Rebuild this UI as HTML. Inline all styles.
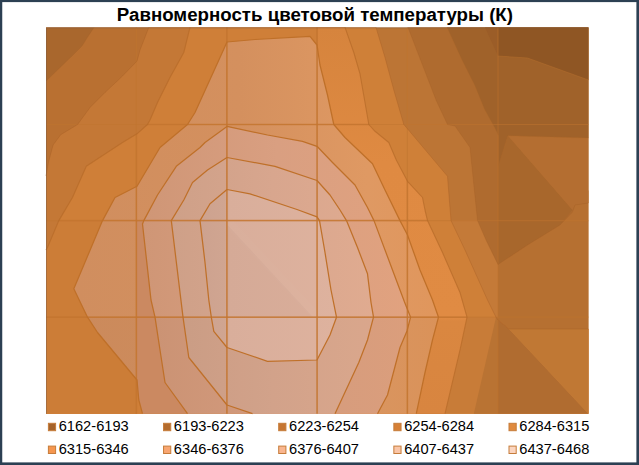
<!DOCTYPE html>
<html><head><meta charset="utf-8"><title>chart</title>
<style>
html,body{margin:0;padding:0;background:#fff;}
body{width:639px;height:465px;overflow:hidden;position:relative;font-family:"Liberation Sans",sans-serif;}
#title{position:absolute;left:0;top:3.6px;width:629.8px;text-align:center;font-weight:bold;font-size:18.7px;line-height:22px;color:#000;white-space:nowrap;}
svg{position:absolute;left:0;top:0;}
.lt{position:absolute;font-size:14.65px;line-height:17px;color:#000;white-space:nowrap;}
</style></head><body>
<div id="title">Равномерность цветовой температуры (К)</div>
<svg width="639" height="465" viewBox="0 0 639 465">
<defs><clipPath id="c7"><polygon points="408.0,27.4 420.4,59.6 436.4,100.9 447.5,124.5 455.0,126.0 470.0,147.5 473.8,185.0 477.5,220.6 486.0,240.0 498.0,264.5 527.5,245.0 560.0,225.0 572.5,212.0 575.0,205.0 588.4,203.0 588.4,27.4"/></clipPath><clipPath id="c6"><polygon points="46.0,413.7 46.0,176.0 48.5,162.0 53.1,145.0 60.7,134.7 77.6,124.5 90.0,107.5 105.0,92.5 122.5,76.0 137.0,61.0 140.0,50.0 148.8,27.4 376.0,27.4 385.0,57.5 393.8,90.0 403.8,124.5 407.5,128.8 447.5,176.3 451.0,220.6 465.0,250.0 487.5,300.0 496.0,317.2 498.0,320.0 509.0,329.0 588.4,329.0 588.4,413.7"/></clipPath><linearGradient id="g6" gradientUnits="userSpaceOnUse" x1="330" y1="0" x2="500" y2="0"><stop offset="0" stop-color="#cc7e38"/><stop offset="1" stop-color="#d08239"/></linearGradient><clipPath id="c5"><polygon points="46.0,413.7 46.0,250.0 47.5,247.5 58.8,220.6 72.5,197.5 86.3,166.3 122.5,142.5 137.0,133.8 147.5,124.5 150.0,120.0 157.5,102.5 170.0,77.5 183.8,52.5 190.0,27.4 345.0,27.4 353.8,52.5 360.0,73.8 365.0,102.5 368.8,124.5 375.0,131.3 388.8,142.5 396.3,160.0 407.5,181.3 422.5,197.5 425.0,210.0 427.5,220.6 442.5,252.5 460.0,292.5 467.0,317.2 460.0,350.0 445.0,413.7"/></clipPath><linearGradient id="g5" gradientUnits="userSpaceOnUse" x1="0" y1="27" x2="0" y2="414"><stop offset="0" stop-color="#d6843d"/><stop offset="0.35" stop-color="#df8a42"/><stop offset="0.75" stop-color="#e08b43"/><stop offset="0.76" stop-color="#da8740"/><stop offset="1" stop-color="#d88540"/></linearGradient><linearGradient id="g4" gradientUnits="userSpaceOnUse" x1="75" y1="0" x2="440" y2="0"><stop offset="0" stop-color="#d08e5f"/><stop offset="0.45" stop-color="#d4905e"/><stop offset="0.8" stop-color="#df9963"/><stop offset="1" stop-color="#e0965c"/></linearGradient><linearGradient id="g3" gradientUnits="userSpaceOnUse" x1="143" y1="0" x2="411" y2="0"><stop offset="0" stop-color="#cf9676"/><stop offset="0.5" stop-color="#d99f81"/><stop offset="1" stop-color="#e1a27f"/></linearGradient><linearGradient id="g2" gradientUnits="userSpaceOnUse" x1="171" y1="0" x2="374" y2="0"><stop offset="0" stop-color="#cea088"/><stop offset="0.5" stop-color="#d8a68e"/><stop offset="1" stop-color="#e0ab90"/></linearGradient><linearGradient id="g1" gradientUnits="userSpaceOnUse" x1="200" y1="0" x2="337" y2="0"><stop offset="0" stop-color="#cda28f"/><stop offset="0.18" stop-color="#d0a591"/><stop offset="0.22" stop-color="#d9ae9b"/><stop offset="1" stop-color="#deb29e"/></linearGradient><clipPath id="c4"><polygon points="142.5,413.7 138.8,400.0 137.0,380.0 97.5,332.5 87.5,317.2 73.8,288.8 102.5,220.6 115.0,197.5 137.0,186.3 160.0,147.5 187.5,124.5 195.0,112.5 207.5,85.0 220.0,57.5 227.0,42.0 255.0,39.5 310.0,36.3 317.0,45.0 320.0,65.0 327.5,95.0 333.8,124.5 345.0,137.5 372.5,163.8 385.0,190.0 400.0,220.6 407.5,235.0 420.0,270.0 432.5,300.0 438.5,317.2 432.5,340.0 425.0,372.5 416.3,413.7"/></clipPath><clipPath id="c3"><polygon points="187.5,413.7 165.0,382.5 160.0,350.0 155.0,317.2 151.0,300.0 142.5,224.0 143.8,220.6 157.5,195.0 176.3,166.3 200.0,147.5 205.0,142.5 227.0,126.4 267.5,135.0 302.5,141.3 317.0,146.3 332.5,162.5 355.0,185.0 367.5,207.5 374.0,220.6 392.5,270.0 404.5,302.0 410.6,317.2 407.0,331.0 400.0,347.5 387.5,395.0 377.5,413.7"/></clipPath><clipPath id="c2"><polygon points="252.5,413.7 227.0,405.0 188.8,357.5 183.0,317.2 171.3,220.6 183.8,200.0 192.5,182.5 207.5,170.0 227.0,157.5 275.0,166.3 317.0,180.5 330.0,195.0 340.0,210.0 346.5,220.6 357.5,247.5 367.5,273.8 371.0,302.5 373.5,317.2 367.5,340.0 358.8,362.5 335.0,413.7"/></clipPath><clipPath id="c1"><polygon points="227.0,189.5 210.0,203.8 200.0,220.6 205.0,262.5 208.8,300.0 211.3,317.2 213.8,331.3 227.0,347.5 267.5,361.3 317.0,360.0 330.0,335.0 336.5,317.2 331.0,290.0 325.0,252.5 319.5,220.6 317.0,216.8 297.0,209.5 250.0,193.8"/></clipPath></defs>
<rect x="46.0" y="27.4" width="542.4" height="386.3" fill="#bc7535"/>
<polygon points="430.0,220.6 498.0,220.6 498.0,321.2 430.0,321.2" fill="#c47a38"/>
<polygon points="498.0,190.6 588.4,190.6 588.4,413.7 498.0,413.7" fill="#b67031"/>
<polygon points="408.0,27.4 420.4,59.6 436.4,100.9 447.5,124.5 455.0,126.0 470.0,147.5 473.8,185.0 477.5,220.6 486.0,240.0 498.0,264.5 527.5,245.0 560.0,225.0 572.5,212.0 575.0,205.0 588.4,203.0 588.4,27.4" fill="#af6b2f"/>
<polygon points="498.0,165.7 507.9,135.7 572.5,210.0 560.0,225.0 527.5,245.0 498.0,264.5" fill="#a8672c" clip-path="url(#c7)"/>
<polygon points="507.9,135.7 588.4,138.0 588.4,203.0 575.0,205.0 572.5,210.0" fill="#b46e31" clip-path="url(#c7)"/>
<polygon points="447.0,27.4 461.7,59.6 474.9,85.8 484.3,109.0 494.8,128.0 498.5,135.7 498.5,165.7 507.9,135.7 588.4,138.0 588.4,27.4" fill="#a0622a"/>
<polygon points="485.0,27.4 498.0,27.4 498.0,56.0" fill="#9b5d28"/>
<polygon points="498.0,27.4 498.0,56.0 527.5,58.0 588.4,80.0 588.4,27.4" fill="#8f5624"/>
<polygon points="46.0,413.7 46.0,176.0 48.5,162.0 53.1,145.0 60.7,134.7 77.6,124.5 90.0,107.5 105.0,92.5 122.5,76.0 137.0,61.0 140.0,50.0 148.8,27.4 376.0,27.4 385.0,57.5 393.8,90.0 403.8,124.5 407.5,128.8 447.5,176.3 451.0,220.6 465.0,250.0 487.5,300.0 496.0,317.2 498.0,320.0 509.0,329.0 588.4,329.0 588.4,413.7" fill="#cf8038"/>
<polygon points="407.0,317.2 588.4,317.2 588.4,413.7 407.0,413.7" fill="#c87c38" clip-path="url(#c6)"/>
<polygon points="496.0,317.2 498.0,317.2 498.0,413.7 473.8,413.7" fill="#b97333"/>
<polygon points="498.0,320.0 509.0,329.0 588.4,413.7 498.0,413.7" fill="#b06c30"/>
<polygon points="509.0,329.0 588.4,329.0 588.4,413.7" fill="#c07834"/>
<polygon points="46.0,176.0 48.5,162.0 53.1,145.0 60.7,134.7 77.6,124.5 90.0,107.5 105.0,92.5 122.5,76.0 137.0,61.0 140.0,50.0 148.8,27.4 190.0,27.4 183.8,52.5 170.0,77.5 157.5,102.5 150.0,120.0 147.5,124.5 137.0,133.8 122.5,142.5 86.3,166.3 72.5,197.5 58.8,220.6 47.5,247.5 46.0,250.0" fill="#c47836"/>
<polygon points="46.0,81.0 71.0,57.0 82.0,46.0 87.0,38.0 94.0,27.4 148.8,27.4 140.0,50.0 137.0,61.0 122.5,76.0 105.0,92.5 90.0,107.5 77.6,124.5 60.7,134.7 53.1,145.0 48.5,162.0 46.0,176.0" fill="#b97031"/>
<polygon points="94.0,27.4 87.0,38.0 82.0,46.0 71.0,57.0 46.0,81.0 46.0,27.4" fill="#a9672d"/>
<polygon points="46.0,413.7 46.0,250.0 47.5,247.5 58.8,220.6 72.5,197.5 86.3,166.3 122.5,142.5 137.0,133.8 147.5,124.5 150.0,120.0 157.5,102.5 170.0,77.5 183.8,52.5 190.0,27.4 345.0,27.4 353.8,52.5 360.0,73.8 365.0,102.5 368.8,124.5 375.0,131.3 388.8,142.5 396.3,160.0 407.5,181.3 422.5,197.5 425.0,210.0 427.5,220.6 442.5,252.5 460.0,292.5 467.0,317.2 460.0,350.0 445.0,413.7" fill="#cf7f38"/>
<polygon points="317.0,27.4 480.0,27.4 480.0,413.7 317.0,413.7" fill="url(#g5)" clip-path="url(#c5)"/>
<polygon points="46.0,220.6 137.0,220.6 137.0,413.7 46.0,413.7" fill="#cc7d37" clip-path="url(#c5)"/>
<polygon points="142.5,413.7 138.8,400.0 137.0,380.0 97.5,332.5 87.5,317.2 73.8,288.8 102.5,220.6 115.0,197.5 137.0,186.3 160.0,147.5 187.5,124.5 195.0,112.5 207.5,85.0 220.0,57.5 227.0,42.0 255.0,39.5 310.0,36.3 317.0,45.0 320.0,65.0 327.5,95.0 333.8,124.5 345.0,137.5 372.5,163.8 385.0,190.0 400.0,220.6 407.5,235.0 420.0,270.0 432.5,300.0 438.5,317.2 432.5,340.0 425.0,372.5 416.3,413.7" fill="url(#g4)"/>
<polygon points="46.0,317.2 588.4,317.2 588.4,413.7 46.0,413.7" fill="#000" clip-path="url(#c4)" fill-opacity="0.025"/>
<polygon points="137.0,220.6 170.0,220.6 195.0,413.7 137.0,413.7" fill="#cb8961" clip-path="url(#c4)"/>
<polygon points="187.5,413.7 165.0,382.5 160.0,350.0 155.0,317.2 151.0,300.0 142.5,224.0 143.8,220.6 157.5,195.0 176.3,166.3 200.0,147.5 205.0,142.5 227.0,126.4 267.5,135.0 302.5,141.3 317.0,146.3 332.5,162.5 355.0,185.0 367.5,207.5 374.0,220.6 392.5,270.0 404.5,302.0 410.6,317.2 407.0,331.0 400.0,347.5 387.5,395.0 377.5,413.7" fill="url(#g3)"/>
<polygon points="46.0,317.2 588.4,317.2 588.4,413.7 46.0,413.7" fill="#000" clip-path="url(#c3)" fill-opacity="0.025"/>
<polygon points="252.5,413.7 227.0,405.0 188.8,357.5 183.0,317.2 171.3,220.6 183.8,200.0 192.5,182.5 207.5,170.0 227.0,157.5 275.0,166.3 317.0,180.5 330.0,195.0 340.0,210.0 346.5,220.6 357.5,247.5 367.5,273.8 371.0,302.5 373.5,317.2 367.5,340.0 358.8,362.5 335.0,413.7" fill="url(#g2)"/>
<polygon points="46.0,317.2 588.4,317.2 588.4,413.7 46.0,413.7" fill="#000" clip-path="url(#c2)" fill-opacity="0.025"/>
<polygon points="227.0,189.5 210.0,203.8 200.0,220.6 205.0,262.5 208.8,300.0 211.3,317.2 213.8,331.3 227.0,347.5 267.5,361.3 317.0,360.0 330.0,335.0 336.5,317.2 331.0,290.0 325.0,252.5 319.5,220.6 317.0,216.8 297.0,209.5 250.0,193.8" fill="url(#g1)"/>
<polygon points="227.0,224.6 313.0,317.2 227.0,317.2" fill="#5a3020" clip-path="url(#c1)" fill-opacity="0.032"/>
<polygon points="227.0,220.6 233.0,220.6 317.0,310.2 317.0,317.2 311.0,317.2 227.0,227.6" fill="#fff" clip-path="url(#c1)" fill-opacity="0.02"/>
<g stroke="#c0742e" stroke-width="1.2" stroke-opacity="0.5"><line x1="136.4" y1="27.4" x2="136.4" y2="413.7"/><line x1="226.9" y1="27.4" x2="226.9" y2="413.7"/><line x1="317.1" y1="27.4" x2="317.1" y2="413.7"/><line x1="407.4" y1="27.4" x2="407.4" y2="413.7"/><line x1="498.0" y1="27.4" x2="498.0" y2="413.7"/><line x1="46.0" y1="124.5" x2="588.4" y2="124.5"/><line x1="46.0" y1="220.6" x2="588.4" y2="220.6"/><line x1="46.0" y1="317.2" x2="588.4" y2="317.2"/></g>
<g stroke="#c47630" stroke-width="1.5" stroke-opacity="0.75" clip-path="url(#c5)"><line x1="136.4" y1="27.4" x2="136.4" y2="413.7"/><line x1="226.9" y1="27.4" x2="226.9" y2="413.7"/><line x1="317.1" y1="27.4" x2="317.1" y2="413.7"/><line x1="407.4" y1="27.4" x2="407.4" y2="413.7"/><line x1="498.0" y1="27.4" x2="498.0" y2="413.7"/><line x1="46.0" y1="124.5" x2="588.4" y2="124.5"/><line x1="46.0" y1="220.6" x2="588.4" y2="220.6"/><line x1="46.0" y1="317.2" x2="588.4" y2="317.2"/></g>
<polygon points="227.0,189.5 210.0,203.8 200.0,220.6 205.0,262.5 208.8,300.0 211.3,317.2 213.8,331.3 227.0,347.5 267.5,361.3 317.0,360.0 330.0,335.0 336.5,317.2 331.0,290.0 325.0,252.5 319.5,220.6 317.0,216.8 297.0,209.5 250.0,193.8" fill="none" stroke="#bf7029" stroke-width="1.25" stroke-opacity="1" stroke-linejoin="round"/>
<polyline points="252.5,413.7 227.0,405.0 188.8,357.5 183.0,317.2 171.3,220.6 183.8,200.0 192.5,182.5 207.5,170.0 227.0,157.5 275.0,166.3 317.0,180.5 330.0,195.0 340.0,210.0 346.5,220.6 357.5,247.5 367.5,273.8 371.0,302.5 373.5,317.2 367.5,340.0 358.8,362.5 335.0,413.7" fill="none" stroke="#bf7029" stroke-width="1.25" stroke-opacity="1" stroke-linejoin="round"/>
<polyline points="187.5,413.7 165.0,382.5 160.0,350.0 155.0,317.2 151.0,300.0 142.5,224.0 143.8,220.6 157.5,195.0 176.3,166.3 200.0,147.5 205.0,142.5 227.0,126.4 267.5,135.0 302.5,141.3 317.0,146.3 332.5,162.5 355.0,185.0 367.5,207.5 374.0,220.6 392.5,270.0 404.5,302.0 410.6,317.2 407.0,331.0 400.0,347.5 387.5,395.0 377.5,413.7" fill="none" stroke="#bf7029" stroke-width="1.25" stroke-opacity="1" stroke-linejoin="round"/>
<polyline points="142.5,413.7 138.8,400.0 137.0,380.0 97.5,332.5 87.5,317.2 73.8,288.8 102.5,220.6 115.0,197.5 137.0,186.3 160.0,147.5 187.5,124.5 195.0,112.5 207.5,85.0 220.0,57.5 227.0,42.0 255.0,39.5 310.0,36.3 317.0,45.0 320.0,65.0 327.5,95.0 333.8,124.5 345.0,137.5 372.5,163.8 385.0,190.0 400.0,220.6 407.5,235.0 420.0,270.0 432.5,300.0 438.5,317.2 432.5,340.0 425.0,372.5 416.3,413.7" fill="none" stroke="#bf7029" stroke-width="1.25" stroke-opacity="1" stroke-linejoin="round"/>
<polyline points="190.0,27.4 183.8,52.5 170.0,77.5 157.5,102.5 150.0,120.0 147.5,124.5 137.0,133.8 122.5,142.5 86.3,166.3 72.5,197.5 58.8,220.6 47.5,247.5 46.0,250.0" fill="none" stroke="#b56a28" stroke-width="1.1" stroke-opacity="0.7" stroke-linejoin="round"/>
<polyline points="345.0,27.4 353.8,52.5 360.0,73.8 365.0,102.5 368.8,124.5 375.0,131.3 388.8,142.5 396.3,160.0 407.5,181.3 422.5,197.5 425.0,210.0 427.5,220.6 442.5,252.5 460.0,292.5 467.0,317.2 460.0,350.0 445.0,413.7" fill="none" stroke="#b56a28" stroke-width="1.1" stroke-opacity="0.7" stroke-linejoin="round"/>
<polyline points="148.8,27.4 140.0,50.0 137.0,61.0 122.5,76.0 105.0,92.5 90.0,107.5 77.6,124.5 60.7,134.7 53.1,145.0 48.5,162.0 46.0,176.0" fill="none" stroke="#a86026" stroke-width="1" stroke-opacity="0.4" stroke-linejoin="round"/>
<polyline points="376.0,27.4 385.0,57.5 393.8,90.0 403.8,124.5 407.5,128.8 447.5,176.3 451.0,220.6 465.0,250.0 487.5,300.0 496.0,317.2 498.0,320.0 509.0,329.0 588.4,329.0" fill="none" stroke="#a86026" stroke-width="1" stroke-opacity="0.4" stroke-linejoin="round"/>
<polyline points="94.0,27.4 87.0,38.0 82.0,46.0 71.0,57.0 46.0,81.0" fill="none" stroke="#a05c24" stroke-width="1" stroke-opacity="0.25" stroke-linejoin="round"/>
<polyline points="408.0,27.4 420.4,59.6 436.4,100.9 447.5,124.5 455.0,126.0 470.0,147.5 473.8,185.0 477.5,220.6 486.0,240.0 498.0,264.5 527.5,245.0 560.0,225.0 572.5,212.0 575.0,205.0 588.4,203.0" fill="none" stroke="#a05c24" stroke-width="1" stroke-opacity="0.25" stroke-linejoin="round"/>
<polyline points="447.0,27.4 461.7,59.6 474.9,85.8 484.3,109.0 494.8,128.0 498.5,135.7 498.5,165.7 507.9,135.7 588.4,138.0" fill="none" stroke="#b06a2c" stroke-width="1" stroke-opacity="0.3" stroke-linejoin="round"/>
<polyline points="498.0,56.0 527.5,58.0 588.4,80.0" fill="none" stroke="#b8702f" stroke-width="1" stroke-opacity="0.45" stroke-linejoin="round"/>
<polyline points="46.5,413.7 46.5,27.9 588.4,27.9" fill="none" stroke="#7a5a44" stroke-width="1" stroke-opacity="0.45"/>
<rect x="48.40" y="423.30" width="7.2" height="7.4" fill="#a5632a" stroke="#c67c3a" stroke-width="1"/>
<rect x="163.55" y="423.30" width="7.2" height="7.4" fill="#b46c2e" stroke="#c67c3a" stroke-width="1"/>
<rect x="278.70" y="423.30" width="7.2" height="7.4" fill="#c67632" stroke="#c67c3a" stroke-width="1"/>
<rect x="393.85" y="423.30" width="7.2" height="7.4" fill="#d68036" stroke="#c67c3a" stroke-width="1"/>
<rect x="509.00" y="423.30" width="7.2" height="7.4" fill="#e08a3e" stroke="#c67c3a" stroke-width="1"/>
<rect x="48.40" y="446.10" width="7.2" height="7.4" fill="#f5964f" stroke="#c67c3a" stroke-width="1"/>
<rect x="163.55" y="446.10" width="7.2" height="7.4" fill="#f8a672" stroke="#c67c3a" stroke-width="1"/>
<rect x="278.70" y="446.10" width="7.2" height="7.4" fill="#f9b690" stroke="#c67c3a" stroke-width="1"/>
<rect x="393.85" y="446.10" width="7.2" height="7.4" fill="#fac6a8" stroke="#c67c3a" stroke-width="1"/>
<rect x="509.00" y="446.10" width="7.2" height="7.4" fill="#fbd5c0" stroke="#c67c3a" stroke-width="1"/>
<rect x="0" y="0" width="639" height="2.1" fill="#2c4053"/>
<rect x="0" y="0" width="2.25" height="465" fill="#2c4053"/>
<rect x="636.4" y="0" width="2.6" height="465" fill="#2c4053"/>
<rect x="0" y="462.4" width="639" height="2.6" fill="#2c4053"/>
</svg>
<div class="lt" style="left:58.70px;top:417.8px">6162-6193</div>
<div class="lt" style="left:173.85px;top:417.8px">6193-6223</div>
<div class="lt" style="left:289.00px;top:417.8px">6223-6254</div>
<div class="lt" style="left:404.15px;top:417.8px">6254-6284</div>
<div class="lt" style="left:519.30px;top:417.8px">6284-6315</div>
<div class="lt" style="left:58.70px;top:440.6px">6315-6346</div>
<div class="lt" style="left:173.85px;top:440.6px">6346-6376</div>
<div class="lt" style="left:289.00px;top:440.6px">6376-6407</div>
<div class="lt" style="left:404.15px;top:440.6px">6407-6437</div>
<div class="lt" style="left:519.30px;top:440.6px">6437-6468</div>

</body></html>
